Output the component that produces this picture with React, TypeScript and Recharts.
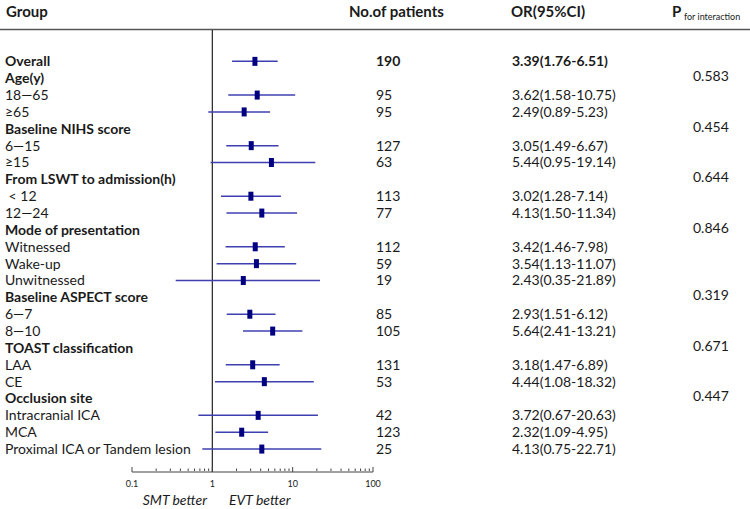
import React from 'react';
import { ComposedChart, Scatter, ErrorBar, XAxis, YAxis, ReferenceLine, Customized } from 'recharts';

const groupLabels = [
  'Overall', 'Age(y)', '18—65', '≥65', 'Baseline NIHS score', '6—15', '≥15',
  'From LSWT to admission(h)', '\u00a0< 12', '12—24', 'Mode of presentation', 'Witnessed',
  'Wake-up', 'Unwitnessed', 'Baseline ASPECT score', '6—7', '8—10', 'TOAST classification',
  'LAA', 'CE', 'Occlusion site', 'Intracranial ICA', 'MCA', 'Proximal ICA or Tandem lesion',
];
const boldRows = [0, 1, 4, 7, 10, 14, 17, 20];
const patients = [190, null, 95, 95, null, 127, 63, null, 113, 77, null, 112, 59, 19, null, 85, 105, null, 131, 53, null, 42, 123, 25];
const oddsRatio = [3.39, null, 3.62, 2.49, null, 3.05, 5.44, null, 3.02, 4.13, null, 3.42, 3.54, 2.43, null, 2.93, 5.64, null, 3.18, 4.44, null, 3.72, 2.32, 4.13];
const ciLow = [1.76, null, 1.58, 0.89, null, 1.49, 0.95, null, 1.28, 1.5, null, 1.46, 1.13, 0.35, null, 1.51, 2.41, null, 1.47, 1.08, null, 0.67, 1.09, 0.75];
const ciHigh = [6.51, null, 10.75, 5.23, null, 6.67, 19.14, null, 7.14, 11.34, null, 7.98, 11.07, 21.89, null, 6.12, 13.21, null, 6.89, 18.32, null, 20.63, 4.95, 22.71];
const pInteraction = ['', '0.583', '', '', '0.454', '', '', '0.644', '', '', '0.846', '', '', '', '0.319', '', '', '0.671', '', '', '0.447', '', '', ''];
const majorTicks = [0.1, 1, 10, 100];
const minorTicks = [0.2, 0.3, 0.4, 0.5, 0.6, 0.7, 0.8, 0.9, 2, 3, 4, 5, 6, 7, 8, 9, 20, 30, 40, 50, 60, 70, 80, 90];

const FONT = 'Lato, "Open Sans", sans-serif';
const TEXT = '#1a1a1a';

const rows = groupLabels.map((label, i) => ({
  row: i,
  label,
  bold: boldRows.includes(i),
  n: patients[i],
  or: oddsRatio[i],
  lo: ciLow[i],
  hi: ciHigh[i],
  p: pInteraction[i],
}));

const estimates = rows
  .filter((r) => r.or != null)
  .map((r) => ({ ...r, err: [(r.or as number) - (r.lo as number), (r.hi as number) - (r.or as number)] }));

const fmt = (v: number) => v.toFixed(2);

const RowTick = (props: any) => {
  const { y, payload } = props;
  const r = rows[payload.value];
  if (!r) return null;
  const overall = r.row === 0;
  return (
    <g fontFamily={FONT} fontSize={14} fill={TEXT}>
      <text x={5} y={y} dy="0.35em" fontWeight={r.bold ? 700 : 400}>{r.label}</text>
      {r.n != null && (
        <text x={376} y={y} dy="0.35em" fontWeight={overall ? 700 : 400}>{r.n}</text>
      )}
      {r.or != null && (
        <text x={512} y={y} dy="0.35em" fontWeight={overall ? 700 : 400}>
          {`${fmt(r.or)}(${fmt(r.lo as number)}-${fmt(r.hi as number)})`}
        </text>
      )}
      {r.p && (
        <text x={693} y={y - 2} dy="0.35em">{r.p}</text>
      )}
    </g>
  );
};

const LogTick = (props: any) => {
  const { x, y, payload } = props;
  const major = majorTicks.includes(payload.value);
  return (
    <g>
      <line x1={x} x2={x} y1={major ? y - 5 : y - 3.5} y2={major ? y : y - 1} stroke="#444" strokeWidth={1} />
      {major && (
        <text x={x} y={y + 12} dy="0.35em" textAnchor="middle" fontFamily={FONT} fontSize={9} fill={TEXT}>
          {payload.value}
        </text>
      )}
    </g>
  );
};

const Decorations = () => (
  <g fontFamily={FONT} fill={TEXT}>
    <line x1={0} x2={750} y1={29.5} y2={29.5} stroke="#555" strokeWidth={1.5} />
    <text x={6} y={12} dy="0.35em" fontSize={15} fontWeight={700}>Group</text>
    <text x={349} y={12} dy="0.35em" fontSize={15} fontWeight={700}>No.of patients</text>
    <text x={511} y={12} dy="0.35em" fontSize={15} fontWeight={700}>OR(95%CI)</text>
    <text x={672} y={12} dy="0.35em" fontSize={15} fontWeight={700}>P</text>
    <text x={684} y={17} dy="0.35em" fontSize={9}>for interaction</text>
    <text x={207} y={500} dy="0.35em" fontSize={14} fontStyle="italic" textAnchor="end">SMT better</text>
    <text x={229} y={500} dy="0.35em" fontSize={14} fontStyle="italic">EVT better</text>
  </g>
);

export default function App() {
  return (
    <div style={{ position: 'absolute', left: 0, top: 0, background: '#fff' }}>
      <ComposedChart width={750} height={509} margin={{ top: 30, right: 377, bottom: 7, left: 131 }}>
        <XAxis
          type="number"
          dataKey="or"
          scale="log"
          domain={[0.1, 100]}
          allowDataOverflow
          ticks={[...majorTicks, ...minorTicks].sort((a, b) => a - b)}
          interval={0}
          tickSize={0}
          tickMargin={0}
          tickLine={false}
          tick={<LogTick />}
          height={30}
          stroke="#444"
          axisLine={{ stroke: '#444', strokeWidth: 1.2 }}
        />
        <YAxis
          type="number"
          dataKey="row"
          reversed
          domain={[-1.86, 24.36]}
          allowDataOverflow
          ticks={rows.map((r) => r.row)}
          interval={0}
          width={1}
          axisLine={false}
          tickLine={false}
          tick={<RowTick />}
        />
        <ReferenceLine x={1} stroke="#222" strokeWidth={1.2} ifOverflow="extendDomain" />
        <Scatter
          data={estimates}
          dataKey="or"
          isAnimationActive={false}
          fill="#000080"
          shape={(p: any) => <rect x={p.cx - 2.5} y={p.cy - 4.5} width={5} height={9} fill="#000080" />}
        >
          <ErrorBar dataKey="err" direction="x" width={0} stroke="#3f3fb0" strokeWidth={1.5} />
        </Scatter>
        <Customized component={Decorations} />
      </ComposedChart>
    </div>
  );
}
